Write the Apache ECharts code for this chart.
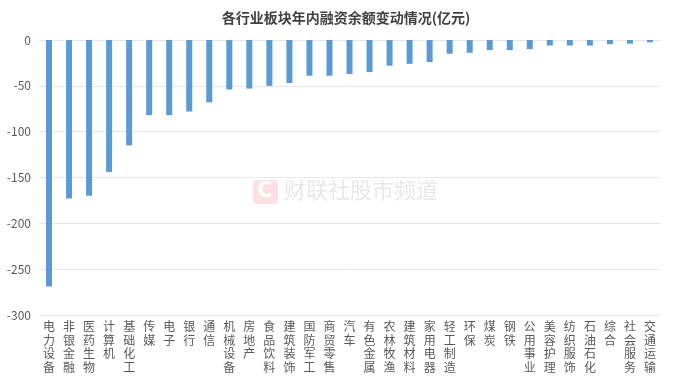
<!DOCTYPE html>
<html>
<head>
<meta charset="utf-8">
<script src="https://cdn.jsdelivr.net/npm/echarts@6/dist/echarts.min.js"></script>
<style>
  html, body { margin: 0; padding: 0; background: #fff; }
  #chart { width: 692px; height: 376px; }
</style>
</head>
<body>
<div id="chart"></div>
<script>
// 各行业板块年内融资余额变动 (亿元)
const industries = [
  "电力设备", "非银金融", "医药生物", "计算机", "基础化工", "传媒", "电子", "银行",
  "通信", "机械设备", "房地产", "食品饮料", "建筑装饰", "国防军工", "商贸零售", "汽车",
  "有色金属", "农林牧渔", "建筑材料", "家用电器", "轻工制造", "环保", "煤炭", "钢铁",
  "公用事业", "美容护理", "纺织服饰", "石油石化", "综合", "社会服务", "交通运输"
];
const changes = [
  -269, -173, -170, -144, -115, -82, -82, -78,
  -68, -54, -53, -50, -47, -39, -39, -37,
  -35, -28, -26, -24, -15, -14, -11, -11,
  -10, -6, -6, -6, -4.5, -4, -2.5
];
const yTicks = [0, -50, -100, -150, -200, -250, -300];

const chart = echarts.init(document.getElementById("chart"), null, { renderer: "canvas" });
chart.setOption({
  backgroundColor: "#fff",
  animation: false,
  title: {
    text: "各行业板块年内融资余额变动情况(亿元)",
    left: "center", top: 6,
    textStyle: { fontSize: 14, fontWeight: "bold", color: "#404040", fontFamily: "Noto Sans CJK SC" },
  },
  grid: { top: 40, left: 39, right: 32, bottom: 61 },
  xAxis: {
    type: "category", data: industries, position: "bottom",
    axisLine: { show: false }, axisTick: { show: false },
    axisLabel: {
      interval: 0, color: "#595959", fontSize: 12, lineHeight: 13.5, margin: 5,
      fontFamily: "Noto Sans CJK SC", verticalAlign: "top",
      formatter: (v) => v.split("").join("\n"),
    },
  },
  yAxis: {
    type: "value", min: -300, max: 0, interval: 50,
    axisLine: { show: false }, axisTick: { show: false },
    axisLabel: {
      color: "#595959", fontSize: 12, margin: 8, fontFamily: "Noto Sans CJK SC",
      formatter: (v) => yTicks.includes(v) ? String(v) : "",
    },
    splitLine: { lineStyle: { color: "#e6e6e6", width: 1 } },
  },
  graphic: [
    { type: "rect", left: 253, top: 180, shape: { width: 25, height: 24, r: 4 }, style: { fill: "#fbe1e1" }, z: 0 },
    { type: "text", left: 257, top: 181, style: { text: "C", fontSize: 21, fontWeight: "bold", fill: "#fff", fontFamily: "DejaVu Sans" }, z: 0 },
    { type: "text", left: 284, top: 179, style: { text: "财联社股市频道", fontSize: 22, fill: "#e8e8e8", fontFamily: "Noto Sans CJK SC" }, z: 0 },
  ],
  series: [{
    type: "bar", data: changes, barWidth: 6, z: 2,
    itemStyle: { color: "#5b9bd5" },
  }],
});
</script>
</body>
</html>
